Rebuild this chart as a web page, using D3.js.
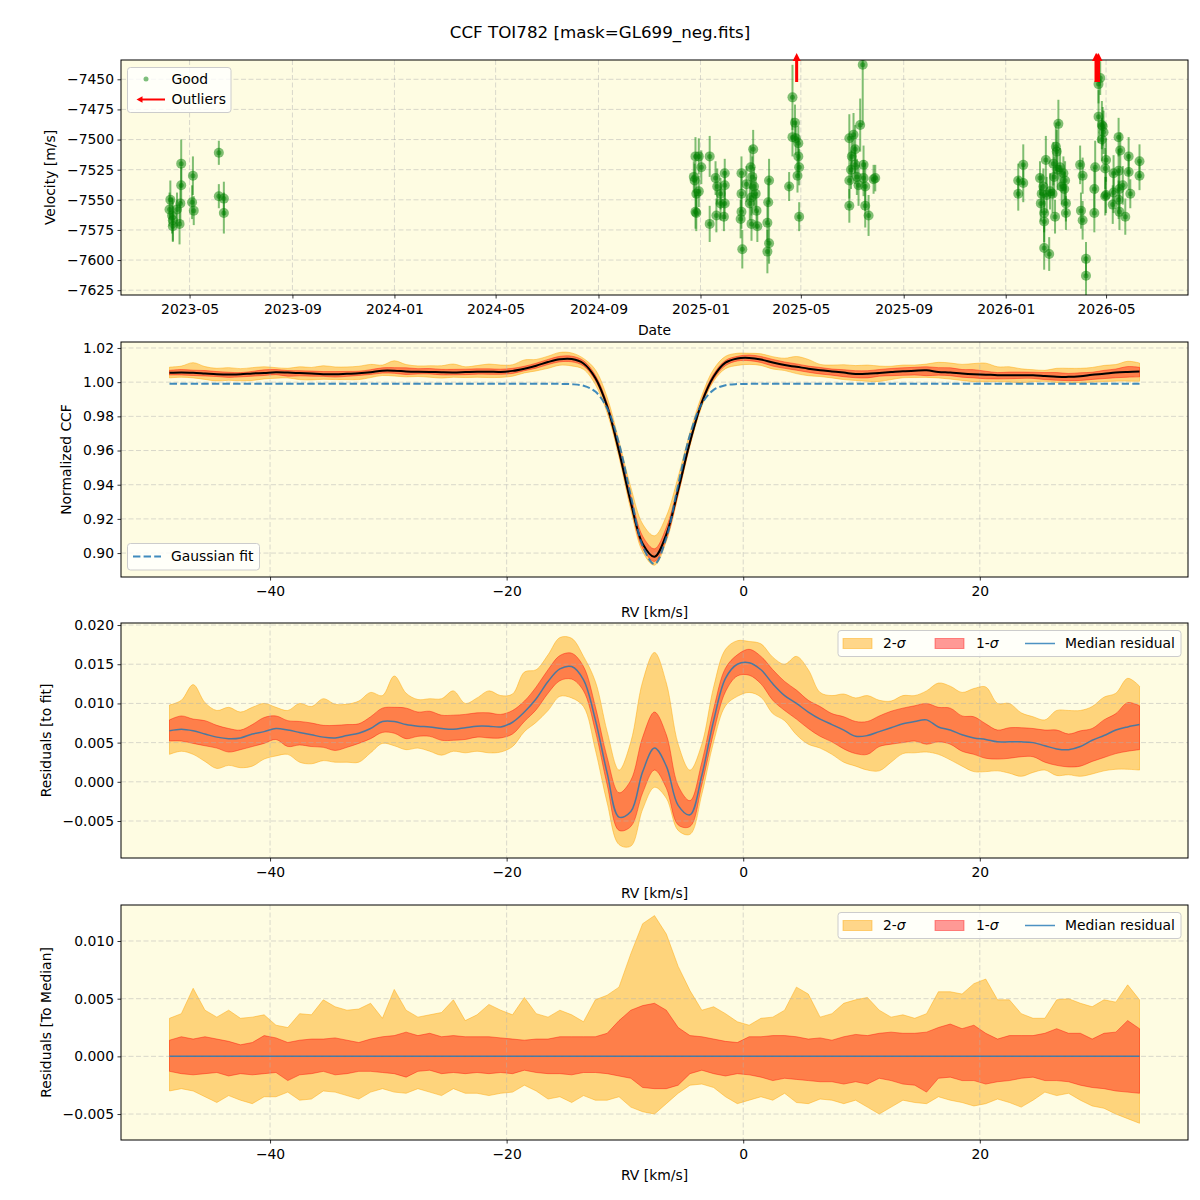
<!DOCTYPE html>
<html>
<head>
<meta charset="utf-8">
<script src="https://cdn.jsdelivr.net/npm/d3@7.9.0/dist/d3.min.js"></script>
<style>
  body { margin: 0; background: #fff; }
  svg { font-family: "DejaVu Sans", sans-serif; }
</style>
</head>
<body>
<svg id="chart" width="1200" height="1200"></svg>
<script>
// ---------- panel 1 : RV time series  [date, velocity m/s, error m/s]
const goodPoints = [
  ['2023-04-07', -7558, 14], ['2023-04-08', -7550, 16], ['2023-04-10', -7563, 15], ['2023-04-11', -7572, 12],
  ['2023-04-11', -7567, 18], ['2023-04-16', -7558, 14], ['2023-04-19', -7570, 17], ['2023-04-20', -7553, 16],
  ['2023-04-21', -7520, 20], ['2023-04-21', -7538, 15], ['2023-05-04', -7552, 14], ['2023-05-05', -7530, 16],
  ['2023-05-06', -7559, 12], ['2023-06-05', -7511, 10], ['2023-06-05', -7547, 10], ['2023-06-11', -7549, 14],
  ['2023-06-11', -7561, 17],
  ['2024-12-26', -7514, 16], ['2024-12-30', -7514, 15], ['2025-01-02', -7523, 14], ['2024-12-24', -7531, 13],
  ['2024-12-25', -7534, 14], ['2024-12-27', -7545, 14], ['2024-12-30', -7543, 13], ['2024-12-26', -7560, 14],
  ['2024-12-27', -7561, 15], ['2025-01-12', -7514, 17], ['2025-01-12', -7570, 15], ['2025-01-19', -7532, 14],
  ['2025-01-21', -7539, 15], ['2025-01-20', -7563, 14], ['2025-01-25', -7545, 13], ['2025-01-25', -7553, 14],
  ['2025-01-30', -7528, 12], ['2025-01-30', -7538, 12], ['2025-01-30', -7553, 13], ['2025-01-29', -7564, 12],
  ['2025-02-19', -7528, 14], ['2025-02-19', -7545, 15], ['2025-02-18', -7566, 16], ['2025-02-19', -7560, 14],
  ['2025-02-20', -7591, 16], ['2025-02-25', -7537, 15], ['2025-03-02', -7523, 18], ['2025-03-05', -7508, 16],
  ['2025-03-04', -7531, 17], ['2025-03-06', -7539, 16], ['2025-03-03', -7548, 15], ['2025-03-08', -7545, 14],
  ['2025-03-03', -7570, 14], ['2025-03-09', -7559, 15], ['2025-03-10', -7572, 13], ['2025-03-01', -7553, 14],
  ['2025-03-24', -7534, 18], ['2025-03-23', -7552, 16], ['2025-03-22', -7569, 16], ['2025-03-24', -7586, 17],
  ['2025-03-22', -7593, 18], ['2025-04-17', -7539, 12], ['2025-04-21', -7465, 27], ['2025-04-24', -7486, 15],
  ['2025-04-21', -7498, 16], ['2025-04-25', -7499, 14], ['2025-04-28', -7503, 14], ['2025-04-28', -7514, 16],
  ['2025-04-29', -7523, 15], ['2025-04-27', -7530, 14], ['2025-04-29', -7564, 12],
  ['2025-06-28', -7499, 20], ['2025-07-03', -7496, 18], ['2025-07-05', -7508, 20], ['2025-07-01', -7514, 17],
  ['2025-06-30', -7525, 16], ['2025-06-28', -7534, 15], ['2025-06-28', -7555, 14], ['2025-07-05', -7521, 16],
  ['2025-07-07', -7531, 15], ['2025-07-09', -7538, 17], ['2025-07-11', -7488, 22], ['2025-07-14', -7438, 50],
  ['2025-07-15', -7521, 16], ['2025-07-15', -7532, 15], ['2025-07-17', -7539, 20], ['2025-07-17', -7555, 18],
  ['2025-07-21', -7563, 17], ['2025-07-27', -7533, 12], ['2025-07-29', -7532, 11],
  ['2026-01-16', -7534, 14], ['2026-01-16', -7545, 14], ['2026-01-22', -7521, 17], ['2026-01-22', -7536, 16],
  ['2026-02-11', -7532, 14], ['2026-02-12', -7553, 15], ['2026-02-13', -7545, 16], ['2026-02-15', -7539, 15],
  ['2026-02-16', -7561, 16], ['2026-02-16', -7568, 17], ['2026-02-16', -7590, 18], ['2026-02-18', -7517, 20],
  ['2026-02-19', -7546, 15], ['2026-02-22', -7595, 14], ['2026-02-23', -7543, 15], ['2026-02-26', -7545, 16],
  ['2026-02-27', -7520, 18], ['2026-02-28', -7531, 17], ['2026-03-02', -7506, 20], ['2026-03-03', -7510, 18],
  ['2026-03-04', -7525, 17], ['2026-03-05', -7487, 20], ['2026-03-01', -7564, 14], ['2026-03-07', -7523, 16],
  ['2026-03-09', -7539, 15], ['2026-03-11', -7528, 14], ['2026-03-13', -7534, 16], ['2026-03-12', -7541, 14],
  ['2026-03-14', -7553, 15], ['2026-03-14', -7561, 14], ['2026-03-31', -7521, 16], ['2026-04-03', -7530, 15],
  ['2026-04-01', -7559, 15], ['2026-04-03', -7567, 16], ['2026-04-07', -7599, 14], ['2026-04-07', -7613, 16],
  ['2026-04-17', -7541, 18], ['2026-04-18', -7523, 22], ['2026-04-17', -7561, 16], ['2026-04-22', -7454, 16],
  ['2026-04-24', -7449, 14], ['2026-04-22', -7481, 22], ['2026-04-26', -7488, 20], ['2026-04-28', -7494, 18],
  ['2026-04-26', -7500, 18], ['2026-04-27', -7489, 16], ['2026-05-01', -7517, 18], ['2026-04-30', -7524, 17],
  ['2026-04-30', -7547, 16], ['2026-05-01', -7546, 15], ['2026-05-10', -7528, 15], ['2026-05-10', -7544, 17],
  ['2026-05-09', -7554, 16], ['2026-05-16', -7498, 16], ['2026-05-18', -7509, 15], ['2026-05-16', -7526, 18],
  ['2026-05-17', -7541, 17], ['2026-05-16', -7550, 16], ['2026-05-17', -7560, 15], ['2026-05-24', -7564, 15],
  ['2026-05-21', -7538, 16], ['2026-05-28', -7514, 16], ['2026-05-28', -7527, 15], ['2026-05-30', -7545, 12],
  ['2026-06-10', -7518, 14], ['2026-06-10', -7530, 12]
];
const outlierDates = ['2025-04-26', '2026-04-19', '2026-04-20', '2026-04-22'];
const dateTicks = ['2023-05-01', '2023-09-01', '2024-01-01', '2024-05-01', '2024-09-01',
                   '2025-01-01', '2025-05-01', '2025-09-01', '2026-01-01', '2026-05-01'];
const velTicks = [-7625, -7600, -7575, -7550, -7525, -7500, -7475, -7450];

// ---------- CCF grid (km/s) and curves
const rvGrid = [
  -48.5, -47.5, -46.5, -45.5, -44.5, -43.5, -42.5, -41.5, -40.5, -39.5,
  -38.5, -37.5, -36.5, -35.5, -34.5, -33.5, -32.5, -31.5, -30.5, -29.5,
  -28.5, -27.5, -26.5, -25.5, -24.5, -23.5, -22.5, -21.5, -20.5, -19.5,
  -18.5, -17.5, -16.5, -15.5, -14.5, -13.5, -12.5, -11.5, -10.5, -9.5,
  -8.5, -7.5, -6.5, -5.5, -4.5, -3.5, -2.5, -1.5, -0.5, 0.5,
  1.5, 2.5, 3.5, 4.5, 5.5, 6.5, 7.5, 8.5, 9.5, 10.5,
  11.5, 12.5, 13.5, 14.5, 15.5, 16.5, 17.5, 18.5, 19.5, 20.5,
  21.5, 22.5, 23.5, 24.5, 25.5, 26.5, 27.5, 28.5, 29.5, 30.5,
  31.5, 32.5, 33.5
];
const gaussFit = [
  0.999, 0.999, 0.999, 0.999, 0.999, 0.999, 0.999, 0.999, 0.999, 0.999,
  0.999, 0.999, 0.999, 0.999, 0.999, 0.999, 0.999, 0.999, 0.999, 0.999,
  0.999, 0.999, 0.999, 0.999, 0.999, 0.999, 0.999, 0.999, 0.999, 0.999,
  0.999, 0.999, 0.999, 0.999, 0.9988, 0.9979, 0.9945, 0.9847, 0.9641, 0.9334,
  0.9042, 0.8936, 0.9090, 0.9399, 0.9692, 0.9874, 0.9955, 0.9982, 0.9989, 0.9990,
  0.999, 0.999, 0.999, 0.999, 0.999, 0.999, 0.999, 0.999, 0.999, 0.999,
  0.999, 0.999, 0.999, 0.999, 0.999, 0.999, 0.999, 0.999, 0.999, 0.999,
  0.999, 0.999, 0.999, 0.999, 0.999, 0.999, 0.999, 0.999, 0.999, 0.999,
  0.999, 0.999, 0.999
];
// median residual to the fit
const residMedian = [
  0.0065, 0.0067, 0.0065, 0.0061, 0.0057, 0.0055, 0.0056, 0.0061, 0.0064, 0.0068,
  0.0066, 0.0063, 0.0060, 0.0057, 0.0056, 0.0059, 0.0062, 0.0068, 0.0077, 0.0077,
  0.0073, 0.0071, 0.0070, 0.0068, 0.0067, 0.0069, 0.0071, 0.0071, 0.0070, 0.0076,
  0.0089, 0.0106, 0.0128, 0.0144, 0.0147, 0.0130, 0.0079, 0.0011, -0.0045, -0.0038,
  0.0013, 0.0043, 0.0020, -0.0030, -0.0042, 0.0008, 0.0078, 0.0132, 0.0150, 0.0152,
  0.0143, 0.0125, 0.0110, 0.0100, 0.0089, 0.0080, 0.0073, 0.0066, 0.0058, 0.0059,
  0.0064, 0.0069, 0.0074, 0.0077, 0.0079, 0.0070, 0.0066, 0.0060, 0.0056, 0.0054,
  0.0051, 0.0051, 0.0051, 0.0050, 0.0046, 0.0042, 0.0041, 0.0045, 0.0053, 0.0059,
  0.0066, 0.0070, 0.0073
];
// spread about the median (residuals to median)
const sig2Hi = [
  0.0033, 0.0037, 0.0059, 0.0040, 0.0034, 0.0040, 0.0033, 0.0034, 0.0036, 0.0027,
  0.0025, 0.0037, 0.0036, 0.0049, 0.0043, 0.0040, 0.0041, 0.0046, 0.0033, 0.0058,
  0.0040, 0.0034, 0.0036, 0.0038, 0.0049, 0.0031, 0.0036, 0.0045, 0.0040, 0.0036,
  0.0051, 0.0037, 0.0034, 0.0040, 0.0036, 0.0030, 0.0049, 0.0053, 0.0060, 0.0089,
  0.0115, 0.0122, 0.0106, 0.0078, 0.0057, 0.0040, 0.0043, 0.0037, 0.0030, 0.0027,
  0.0033, 0.0034, 0.0040, 0.0060, 0.0054, 0.0034, 0.0037, 0.0046, 0.0049, 0.0051,
  0.0040, 0.0034, 0.0036, 0.0033, 0.0037, 0.0056, 0.0056, 0.0054, 0.0063, 0.0067,
  0.0049, 0.0049, 0.0037, 0.0033, 0.0033, 0.0049, 0.0050, 0.0046, 0.0043, 0.0049,
  0.0047, 0.0062, 0.0049
];
const sig1Hi = [
  0.0014, 0.0017, 0.0015, 0.0017, 0.0015, 0.0013, 0.0010, 0.0012, 0.0018, 0.0016,
  0.0012, 0.0014, 0.0015, 0.0015, 0.0016, 0.0014, 0.0012, 0.0015, 0.0017, 0.0018,
  0.0021, 0.0018, 0.0020, 0.0017, 0.0018, 0.0017, 0.0017, 0.0017, 0.0016, 0.0015,
  0.0014, 0.0015, 0.0015, 0.0017, 0.0017, 0.0017, 0.0017, 0.0020, 0.0031, 0.0040,
  0.0044, 0.0046, 0.0040, 0.0025, 0.0018, 0.0017, 0.0015, 0.0013, 0.0012, 0.0017,
  0.0017, 0.0018, 0.0018, 0.0017, 0.0015, 0.0016, 0.0014, 0.0017, 0.0019, 0.0018,
  0.0020, 0.0021, 0.0020, 0.0020, 0.0021, 0.0025, 0.0028, 0.0024, 0.0027, 0.0020,
  0.0015, 0.0018, 0.0018, 0.0018, 0.0020, 0.0024, 0.0020, 0.0020, 0.0015, 0.0020,
  0.0021, 0.0031, 0.0024
];
const sig1Lo = [
  -0.0013, -0.0015, -0.0016, -0.0015, -0.0014, -0.0017, -0.0015, -0.0016, -0.0015, -0.0014,
  -0.0021, -0.0016, -0.0015, -0.0013, -0.0016, -0.0015, -0.0013, -0.0013, -0.0014, -0.0015,
  -0.0018, -0.0013, -0.0012, -0.0015, -0.0014, -0.0015, -0.0014, -0.0015, -0.0014, -0.0015,
  -0.0012, -0.0014, -0.0015, -0.0015, -0.0016, -0.0014, -0.0014, -0.0015, -0.0017, -0.0019,
  -0.0027, -0.0028, -0.0028, -0.0025, -0.0015, -0.0012, -0.0015, -0.0017, -0.0015, -0.0016,
  -0.0018, -0.0021, -0.0019, -0.0020, -0.0021, -0.0022, -0.0022, -0.0024, -0.0022, -0.0024,
  -0.0019, -0.0021, -0.0024, -0.0025, -0.0031, -0.0019, -0.0018, -0.0021, -0.0021, -0.0024,
  -0.0022, -0.0021, -0.0019, -0.0018, -0.0021, -0.0021, -0.0022, -0.0025, -0.0027, -0.0028,
  -0.0030, -0.0031, -0.0032
];
const sig2Lo = [
  -0.0030, -0.0028, -0.0030, -0.0035, -0.0040, -0.0034, -0.0038, -0.0041, -0.0035, -0.0035,
  -0.0031, -0.0038, -0.0037, -0.0030, -0.0031, -0.0034, -0.0037, -0.0031, -0.0028, -0.0031,
  -0.0032, -0.0028, -0.0031, -0.0034, -0.0028, -0.0032, -0.0032, -0.0034, -0.0032, -0.0031,
  -0.0025, -0.0030, -0.0037, -0.0035, -0.0040, -0.0034, -0.0038, -0.0038, -0.0035, -0.0044,
  -0.0048, -0.0050, -0.0041, -0.0032, -0.0025, -0.0024, -0.0027, -0.0035, -0.0041, -0.0038,
  -0.0035, -0.0038, -0.0032, -0.0040, -0.0041, -0.0037, -0.0038, -0.0041, -0.0038, -0.0044,
  -0.0050, -0.0044, -0.0038, -0.0040, -0.0041, -0.0035, -0.0038, -0.0040, -0.0043, -0.0041,
  -0.0037, -0.0040, -0.0044, -0.0038, -0.0031, -0.0034, -0.0032, -0.0038, -0.0043, -0.0045,
  -0.0050, -0.0054, -0.0058
];
const rvTicks = [-40, -20, 0, 20];
const ccfTicks = [0.90, 0.92, 0.94, 0.96, 0.98, 1.00, 1.02];
const resTicks = [-0.005, 0.000, 0.005, 0.010, 0.015, 0.020];
const medTicks = [-0.005, 0.000, 0.005, 0.010];

// ---------- layout
const svg = d3.select('#chart');
const left = 121, right = 1188;
const BG = '#fefce2', GREEN = '#008000', BLUE = '#1f77b4';
const panels = [
  { top: 60,  bottom: 295 },
  { top: 342, bottom: 577 },
  { top: 623, bottom: 858 },
  { top: 905, bottom: 1140 }
];
const parse = d3.utcParse('%Y-%m-%d');

svg.append('rect').attr('width', 1200).attr('height', 1200).attr('fill', '#fff');
svg.append('text').attr('x', 600).attr('y', 38).attr('text-anchor', 'middle')
   .attr('font-size', '16.7px').text('CCF TOI782 [mask=GL699_neg.fits]');

function drawFrame(idx, x, y, xTicks, yTicks, xFmt, yFmt, xLabel, yLabel, yLabelX) {
  const p = panels[idx];
  const g = svg.append('g');
  g.append('rect').attr('x', left).attr('y', p.top)
   .attr('width', right - left).attr('height', p.bottom - p.top).attr('fill', BG);
  svg.append('clipPath').attr('id', 'clip' + idx)
     .append('rect').attr('x', left).attr('y', p.top)
     .attr('width', right - left).attr('height', p.bottom - p.top);
  const data = g.append('g').attr('clip-path', `url(#clip${idx})`);
  const grid = svg.append('g');
  grid.selectAll('.gx').data(xTicks).join('line')
      .attr('x1', d => x(d)).attr('x2', d => x(d))
      .attr('y1', p.top).attr('y2', p.bottom);
  grid.selectAll('.gy').data(yTicks).join('line')
      .attr('x1', left).attr('x2', right)
      .attr('y1', d => y(d)).attr('y2', d => y(d));
  grid.selectAll('line').attr('stroke', '#b0b0b0').attr('stroke-opacity', 0.6)
      .attr('stroke-width', 0.8).attr('stroke-dasharray', '5,2.5');
  const top = svg.append('g').attr('clip-path', `url(#clip${idx})`);

  const axes = svg.append('g');
  axes.append('g').attr('transform', `translate(0,${p.bottom})`)
      .call(d3.axisBottom(x).tickValues(xTicks).tickFormat(xFmt).tickSize(3.5).tickPadding(6))
      .call(a => a.select('.domain').remove());
  axes.append('g').attr('transform', `translate(${left},0)`)
      .call(d3.axisLeft(y).tickValues(yTicks).tickFormat(yFmt).tickSize(3.5).tickPadding(3.5))
      .call(a => a.select('.domain').remove());
  axes.selectAll('.tick text').attr('font-size', '13.9px').attr('font-family', '"DejaVu Sans", sans-serif').attr('fill', '#000');
  axes.selectAll('.tick line').attr('stroke', '#000').attr('stroke-width', 0.8);
  axes.append('rect').attr('x', left).attr('y', p.top)
      .attr('width', right - left).attr('height', p.bottom - p.top)
      .attr('fill', 'none').attr('stroke', '#000').attr('stroke-width', 1);
  axes.append('text').attr('x', (left + right) / 2).attr('y', p.bottom + 40)
      .attr('text-anchor', 'middle').attr('font-size', '13.9px').text(xLabel);
  axes.append('text')
      .attr('transform', `translate(${yLabelX},${(p.top + p.bottom) / 2}) rotate(-90)`)
      .attr('text-anchor', 'middle').attr('dy', '0.35em').attr('font-size', '13.9px').text(yLabel);
  return { data, top, p };
}

function legendBox(x0, y0, w, h) {
  return svg.append('rect').attr('x', x0).attr('y', y0).attr('width', w).attr('height', h)
    .attr('rx', 3).attr('fill', '#fff').attr('fill-opacity', 0.8)
    .attr('stroke', '#cccccc').attr('stroke-width', 1);
}

function upArrow(g, cx, yBase, yTip, shaftW, headW, headL) {
  const pts = [[cx - shaftW / 2, yBase], [cx - shaftW / 2, yTip + headL], [cx - headW / 2, yTip + headL],
               [cx, yTip], [cx + headW / 2, yTip + headL], [cx + shaftW / 2, yTip + headL], [cx + shaftW / 2, yBase]];
  g.append('polygon').attr('points', pts.map(q => q.join(',')).join(' ')).attr('fill', 'red');
}

// ---------- panel 1
{
  const allDates = goodPoints.map(d => parse(d[0])).concat(outlierDates.map(parse));
  const [d0, d1] = d3.extent(allDates);
  const padT = (d1 - d0) * 0.05;
  const x = d3.scaleUtc().domain([new Date(+d0 - padT), new Date(+d1 + padT)]).range([left, right]);
  const y = d3.scaleLinear().domain([-7629, -7434]).range([panels[0].bottom, panels[0].top]);
  const { top, p } = drawFrame(0, x, y, dateTicks.map(parse), velTicks,
    d3.utcFormat('%Y-%m'), d3.format('d'), 'Date', 'Velocity [m/s]', 50);

  top.selectAll('.err').data(goodPoints).join('line')
     .attr('x1', d => x(parse(d[0]))).attr('x2', d => x(parse(d[0])))
     .attr('y1', d => y(d[1] - d[2])).attr('y2', d => y(d[1] + d[2]))
     .attr('stroke', GREEN).attr('stroke-opacity', 0.5).attr('stroke-width', 2);
  top.selectAll('.mk').data(goodPoints).join('circle')
     .attr('cx', d => x(parse(d[0]))).attr('cy', d => y(d[1])).attr('r', 5)
     .attr('fill', GREEN).attr('fill-opacity', 0.5);
  top.selectAll('.dot').data(goodPoints).join('circle')
     .attr('cx', d => x(parse(d[0]))).attr('cy', d => y(d[1])).attr('r', 2.5)
     .attr('fill', GREEN).attr('fill-opacity', 0.5);

  const arrows = svg.append('g');
  outlierDates.forEach(d => upArrow(arrows, x(parse(d)), p.top + 22, p.top - 7, 3, 8, 8));

  legendBox(127.5, 67.5, 103.5, 45);
  svg.append('circle').attr('cx', 146).attr('cy', 79).attr('r', 2.5).attr('fill', GREEN).attr('fill-opacity', 0.5);
  svg.append('line').attr('x1', 165).attr('x2', 141).attr('y1', 99.5).attr('y2', 99.5)
     .attr('stroke', 'red').attr('stroke-width', 2);
  svg.append('polygon').attr('points', '136.5,99.5 142.5,96.3 142.5,102.7').attr('fill', 'red');
  svg.append('text').attr('x', 171.5).attr('y', 79).attr('dy', '0.35em').attr('font-size', '13.9px').text('Good');
  svg.append('text').attr('x', 171.5).attr('y', 99.5).attr('dy', '0.35em').attr('font-size', '13.9px').text('Outliers');
}

// ---------- RV panels shared
const [rv0, rv1] = d3.extent(rvGrid);
const rvPad = (rv1 - rv0) * 0.05;
const xRV = d3.scaleLinear().domain([rv0 - rvPad, rv1 + rvPad]).range([left, right]);
const idx = rvGrid.map((_, i) => i);
const ccfMedian = gaussFit.map((f, i) => f + residMedian[i]);

function bands(g, y, base, curve) {
  const band = (lo, hi) => d3.area().curve(curve)
    .x(i => xRV(rvGrid[i])).y0(i => y(base[i] + lo[i])).y1(i => y(base[i] + hi[i]));
  g.append('path').attr('d', band(sig2Lo, sig2Hi)(idx))
   .attr('fill', 'orange').attr('fill-opacity', 0.45)
   .attr('stroke', 'orange').attr('stroke-opacity', 0.45).attr('stroke-width', 1);
  g.append('path').attr('d', band(sig1Lo, sig1Hi)(idx))
   .attr('fill', 'red').attr('fill-opacity', 0.4)
   .attr('stroke', 'red').attr('stroke-opacity', 0.4).attr('stroke-width', 1);
}

function sigmaLegend(p) {
  const y0 = p.top + 7.5;
  legendBox(838, y0, 343, 26);
  const cy = y0 + 13;
  svg.append('rect').attr('x', 843).attr('y', cy - 5).attr('width', 29).attr('height', 10)
     .attr('fill', 'orange').attr('fill-opacity', 0.45).attr('stroke', 'orange').attr('stroke-opacity', 0.45);
  svg.append('rect').attr('x', 935).attr('y', cy - 5).attr('width', 29).attr('height', 10)
     .attr('fill', 'red').attr('fill-opacity', 0.4).attr('stroke', 'red').attr('stroke-opacity', 0.4);
  svg.append('line').attr('x1', 1025).attr('x2', 1055).attr('y1', cy).attr('y2', cy)
     .attr('stroke', BLUE).attr('stroke-opacity', 0.8).attr('stroke-width', 1.5);
  const t1 = svg.append('text').attr('x', 883).attr('y', cy).attr('dy', '0.35em').attr('font-size', '13.9px');
  t1.append('tspan').text('2-');
  t1.append('tspan').attr('font-style', 'italic').text('σ');
  const t2 = svg.append('text').attr('x', 976).attr('y', cy).attr('dy', '0.35em').attr('font-size', '13.9px');
  t2.append('tspan').text('1-');
  t2.append('tspan').attr('font-style', 'italic').text('σ');
  svg.append('text').attr('x', 1065).attr('y', cy).attr('dy', '0.35em').attr('font-size', '13.9px').text('Median residual');
}

// ---------- panel 2 : CCF
{
  const y = d3.scaleLinear().domain([0.886, 1.0235]).range([panels[1].bottom, panels[1].top]);
  const { data, top, p } = drawFrame(1, xRV, y, rvTicks, ccfTicks,
    d3.format('d'), d3.format('.2f'), 'RV [km/s]', 'Normalized CCF', 66);
  bands(data, y, ccfMedian, d3.curveCatmullRom);
  top.append('path').attr('d', d3.line().curve(d3.curveCatmullRom)
      .x(i => xRV(rvGrid[i])).y(i => y(ccfMedian[i]))(idx))
     .attr('fill', 'none').attr('stroke', '#000').attr('stroke-width', 2);
  top.append('path').attr('d', d3.line().curve(d3.curveCatmullRom)
      .x(i => xRV(rvGrid[i])).y(i => y(gaussFit[i]))(idx))
     .attr('fill', 'none').attr('stroke', BLUE).attr('stroke-opacity', 0.85)
     .attr('stroke-width', 2).attr('stroke-dasharray', '7.4,3.2');

  legendBox(127.5, 543.5, 132, 26.5);
  svg.append('line').attr('x1', 133).attr('x2', 161).attr('y1', 556.5).attr('y2', 556.5)
     .attr('stroke', BLUE).attr('stroke-opacity', 0.85).attr('stroke-width', 2).attr('stroke-dasharray', '7.4,3.2');
  svg.append('text').attr('x', 171).attr('y', 556.5).attr('dy', '0.35em').attr('font-size', '13.9px').text('Gaussian fit');
}

// ---------- panel 3 : residuals to fit
{
  const y = d3.scaleLinear().domain([-0.00972, 0.02026]).range([panels[2].bottom, panels[2].top]);
  const { data, top, p } = drawFrame(2, xRV, y, rvTicks, resTicks,
    d3.format('d'), d3.format('.3f'), 'RV [km/s]', 'Residuals [to fit]', 46);
  bands(data, y, residMedian, d3.curveCatmullRom);
  top.append('path').attr('d', d3.line().curve(d3.curveCatmullRom)
      .x(i => xRV(rvGrid[i])).y(i => y(residMedian[i]))(idx))
     .attr('fill', 'none').attr('stroke', BLUE).attr('stroke-opacity', 0.8).attr('stroke-width', 1.5);
  sigmaLegend(p);
}

// ---------- panel 4 : residuals to median
{
  const y = d3.scaleLinear().domain([-0.00725, 0.01312]).range([panels[3].bottom, panels[3].top]);
  const { data, top, p } = drawFrame(3, xRV, y, rvTicks, medTicks,
    d3.format('d'), d3.format('.3f'), 'RV [km/s]', 'Residuals [To Median]', 46);
  const zero = rvGrid.map(() => 0);
  bands(data, y, zero, d3.curveLinear);
  top.append('path').attr('d', d3.line().x(i => xRV(rvGrid[i])).y(i => y(zero[i]))(idx))
     .attr('fill', 'none').attr('stroke', BLUE).attr('stroke-opacity', 0.8).attr('stroke-width', 1.5);
  sigmaLegend(p);
}
</script>
</body>
</html>
